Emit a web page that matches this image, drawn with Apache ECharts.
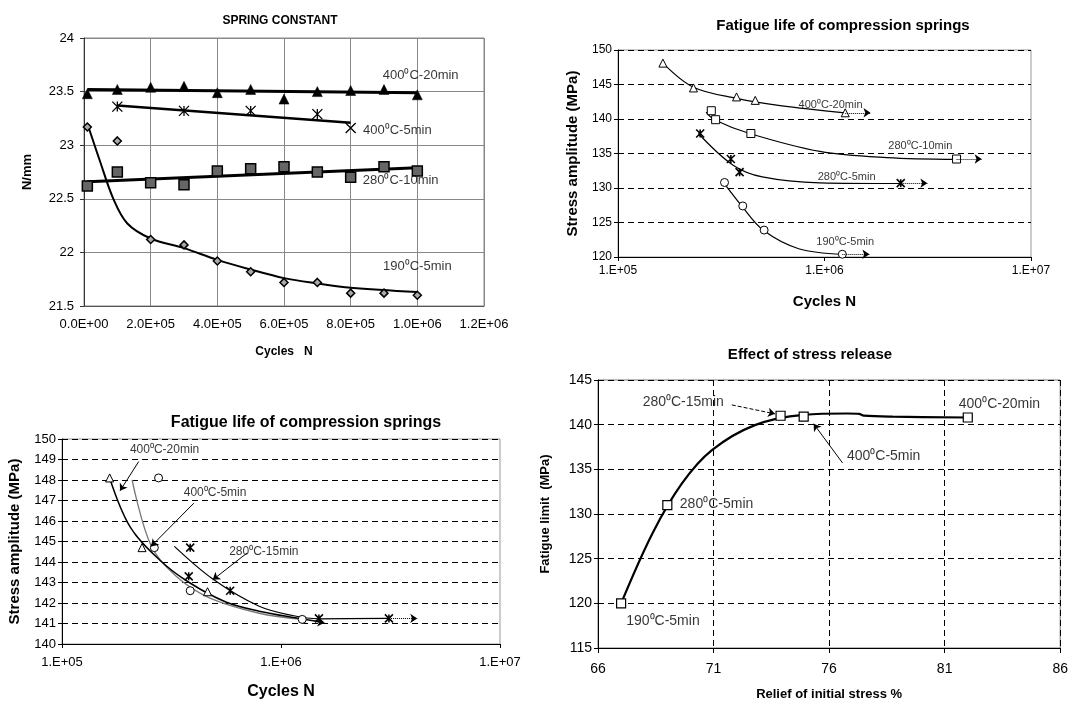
<!DOCTYPE html>
<html>
<head>
<meta charset="utf-8">
<title>Spring tests</title>
<script src="https://cdn.jsdelivr.net/npm/echarts@6/dist/echarts.min.js"></script>
<style>
html, body { margin: 0; padding: 0; background: #fff; }
#main { width: 1071px; height: 708px; }
</style>
</head>
<body>
<div id="main"></div>
<script>
// ---------- chart 1 : spring constant ----------
var cycles1 = [1e4, 1e5, 2e5, 3e5, 4e5, 5e5, 6e5, 7e5, 8e5, 9e5, 1e6];
var k400_20 = [23.48, 23.52, 23.54, 23.55, 23.49, 23.52, 23.43, 23.50, 23.51, 23.52, 23.47];
var k280_10 = [22.62, 22.75, 22.65, 22.63, 22.76, 22.78, 22.80, 22.75, 22.70, 22.80, 22.76];
var k190_5 = [23.17, 23.04, 22.12, 22.07, 21.92, 21.82, 21.72, 21.72, 21.62, 21.62, 21.60];
var cycles400_5 = [1e5, 3e5, 5e5, 7e5, 8e5];
var k400_5 = [23.36, 23.32, 23.32, 23.29, 23.16];
// trend lines
var fit400_20 = [[1e4, 23.52], [1e6, 23.49]];
var fit400_5 = [[1e5, 23.37], [8e5, 23.21]];
var fit280_10 = [[1e4, 22.66], [1e6, 22.79]];
var fit190_5 = [[1.35e4, 23.17], [4.7e4, 22.86], [8.8e4, 22.50], [1.3e5, 22.27], [2e5, 22.13], [3e5, 22.04],
  [4e5, 21.93], [5e5, 21.84], [6e5, 21.76], [7e5, 21.71], [8e5, 21.67], [1e6, 21.63]];
var notes1 = [[1.01e6, 23.65, '400⁰C-20min'], [0.94e6, 23.14, '400⁰C-5min'],
  [0.95e6, 22.67, '280⁰C-10min'], [1.0e6, 21.87, '190⁰C-5min']];

// ---------- chart 2 : fatigue life (top right) ----------
var t2_400_20 = [[1.65e5, 148.1], [2.32e5, 144.5], [3.75e5, 143.2], [4.62e5, 142.7], [1.26e6, 140.9]];
var t2_280_10 = [[2.83e5, 141.2], [2.97e5, 139.9], [4.4e5, 137.9], [4.36e6, 134.2]];
var t2_280_5 = [[2.5e5, 137.9], [3.52e5, 134.2], [3.88e5, 132.3], [2.34e6, 130.7]];
var t2_190_5 = [[3.28e5, 130.8], [4.02e5, 127.4], [5.1e5, 123.9], [1.22e6, 120.4]];
var c2_400_20 = [[1.65e5, 148.1], [2.32e5, 144.6], [3.75e5, 143.0], [6.1e5, 141.95], [1.26e6, 140.9]];
var c2_280_10 = [[2.67e5, 141.0], [2.93e5, 139.9], [4.34e5, 137.9], [9.5e5, 135.3], [2.0e6, 134.4], [4.36e6, 134.15]];
var c2_280_5 = [[2.45e5, 137.9], [3.61e5, 133.3], [5e5, 131.6], [9.5e5, 130.75], [2.34e6, 130.65]];
var c2_190_5 = [[3.24e5, 130.8], [3.97e5, 127.4], [5.04e5, 123.9], [7.5e5, 121.2], [1.22e6, 120.4]];
var arrows2 = [[[1.26e6, 140.9], [1.67e6, 140.9]], [[4.36e6, 134.2], [5.77e6, 134.2]],
  [[2.34e6, 130.7], [3.15e6, 130.7]], [[1.22e6, 120.4], [1.65e6, 120.4]]];
var notes2 = [[1.07e6, 142.05, '400⁰C-20min'], [2.91e6, 136.1, '280⁰C-10min'],
  [1.28e6, 131.6, '280⁰C-5min'], [1.26e6, 122.25, '190⁰C-5min']];

// ---------- chart 3 : fatigue life (bottom left) ----------
var t3_400_20 = [[1.65e5, 148.1], [2.32e5, 144.7], [4.62e5, 142.55]];
var t3_400_5 = [[2.76e5, 148.1], [2.64e5, 144.7], [3.85e5, 142.6], [1.25e6, 141.2]];
var t3_280_15 = [[3.85e5, 144.7], [3.79e5, 143.3], [5.86e5, 142.6], [1.49e6, 141.25], [3.11e6, 141.25]];
var c3_400_20 = [[1.65e5, 148.1], [2.05e5, 145.7], [2.79e5, 144.1], [3.81e5, 143.0], [5.6e5, 142.05],
  [7.95e5, 141.6], [1.21e6, 141.25], [1.5e6, 141.08]];
var c3_400_5 = [[2.09e5, 148.0], [2.55e5, 144.8], [3.32e5, 143.3], [4.71e5, 142.25], [7.95e5, 141.5], [1.25e6, 141.2]];
var c3_280_15 = [[3.26e5, 144.76], [4.88e5, 143.17], [7.95e5, 141.84], [1.13e6, 141.39], [1.49e6, 141.23],
  [3.11e6, 141.25]];
var pointers3 = [[[2.24e5, 148.9], [1.84e5, 147.47]], [[4.0e5, 146.87], [2.55e5, 144.76]],
  [[7.0e5, 144.44], [4.88e5, 143.13]]];
var ends3 = [[[1.45e6, 141.08], [1.58e6, 141.04]], [[3.11e6, 141.25], [4.19e6, 141.25]]];
var notes3 = [[2.94e5, 149.46, '400⁰C-20min'], [5.0e5, 147.39, '400⁰C-5min'], [8.35e5, 144.52, '280⁰C-15min']];

// ---------- chart 4 : effect of stress release ----------
var relief = [67.0, 69.0, 73.9, 74.9, 82.0];
var fatigueLimit = [120.0, 131.0, 141.0, 140.9, 140.8];
var c4_curve = [[67.0, 120.0], [68.36, 127.85], [69.64, 133.45], [70.93, 137.15], [72.79, 139.95],
  [74.9, 141.1], [76.8, 141.25], [77.3, 141.2], [77.5, 141.02], [78.75, 140.9], [82.0, 140.8]];
var dashedPointer4 = [[[71.79, 142.21], [73.66, 141.21]]];
var pointer4 = [[[76.58, 135.72], [75.33, 140.1]]];
var notes4 = [[69.69, 142.47, '280⁰C-15min'], [83.37, 142.33, '400⁰C-20min'], [78.36, 136.46, '400⁰C-5min'],
  [71.13, 131.07, '280⁰C-5min'], [68.81, 118.04, '190⁰C-5min']];

var FONT = 'Liberation Sans, Arial, sans-serif';
var ASTER = 'path://M0,0L10,10M0,10L10,0M5,0L5,10';
var CROSS = 'path://M0,0L10,10M0,10L10,0';

function zip(xs, ys) {
  return xs.map(function (x, i) { return [x, ys[i]]; });
}
function sci(v) {
  if (v === 0) return '0.0E+00';
  var e = Math.floor(Math.log10(v) + 1e-9);
  var m = v / Math.pow(10, e);
  return m.toFixed(1) + 'E+' + (e < 10 ? '0' + e : e);
}
function logLab(v) {
  var e = Math.round(Math.log10(v));
  return '1.E+' + (e < 10 ? '0' + e : e);
}
function curve(g, data, width, color) {
  return {
    type: 'line', xAxisIndex: g, yAxisIndex: g, data: data, showSymbol: false, symbol: 'none',
    smooth: 0.35, silent: true, z: 2,
    lineStyle: { color: color || '#000', width: width }
  };
}
function straight(g, data, width) {
  return {
    type: 'line', xAxisIndex: g, yAxisIndex: g, data: data, showSymbol: false, symbol: 'none',
    silent: true, z: 2, lineStyle: { color: '#000', width: width }
  };
}
function marks(g, data, symbol, size, fill, bw) {
  return {
    type: 'scatter', xAxisIndex: g, yAxisIndex: g, data: data, symbol: symbol, symbolSize: size,
    silent: true, z: 4,
    itemStyle: { color: fill, borderColor: '#000', borderWidth: bw, opacity: 1 }
  };
}
function notes(g, data, fs, arrows, lineType) {
  return {
    type: 'scatter', xAxisIndex: g, yAxisIndex: g, data: data, symbolSize: 1, silent: true, z: 6,
    itemStyle: { color: 'rgba(0,0,0,0)' },
    label: {
      show: true, position: 'inside', color: '#000', fontFamily: FONT, fontSize: fs,
      formatter: function (p) { return p.data[2]; }
    },
    markLine: {
      silent: true, symbol: ['none', 'arrow'], symbolSize: 7, animation: false,
      label: { show: false },
      lineStyle: { color: '#000', width: 1, type: lineType || 'solid' },
      data: (arrows || []).map(function (a) { return [{ coord: a[0] }, { coord: a[1] }]; })
    }
  };
}

var tickFont = { fontFamily: FONT, color: '#000' };
var dashed = { show: true, lineStyle: { color: '#000', type: [6, 4], width: 1 } };

var option = {
  backgroundColor: '#fff',
  animation: false,
  title: [
    { text: 'SPRING CONSTANT', left: 275, top: 10, textAlign: 'center',
      textStyle: { fontFamily: FONT, fontSize: 12, fontWeight: 'bold', color: '#000' } },
    { text: 'Fatigue life of compression springs', left: 838, top: 13, textAlign: 'center',
      textStyle: { fontFamily: FONT, fontSize: 15, fontWeight: 'bold', color: '#000' } },
    { text: 'Fatigue life of compression springs', left: 301, top: 410, textAlign: 'center',
      textStyle: { fontFamily: FONT, fontSize: 16, fontWeight: 'bold', color: '#000' } },
    { text: 'Effect of stress release', left: 805, top: 342, textAlign: 'center',
      textStyle: { fontFamily: FONT, fontSize: 15, fontWeight: 'bold', color: '#000' } }
  ],
  grid: [
    { left: 84, top: 38, width: 400, height: 268, show: true, borderColor: '#888', borderWidth: 1 },
    { left: 618, top: 50, width: 413, height: 207, show: true, borderColor: '#999', borderWidth: 1 },
    { left: 62, top: 439, width: 438, height: 205, show: true, borderColor: '#999', borderWidth: 1 },
    { left: 598, top: 380, width: 466, height: 268, show: true, borderColor: '#777', borderWidth: 1 }
  ],
  xAxis: [
    { gridIndex: 0, type: 'value', min: 0, max: 1.2e6, interval: 2e5,
      name: 'Cycles   N', nameLocation: 'middle', nameGap: 40,
      nameTextStyle: { fontFamily: FONT, fontSize: 12, fontWeight: 'bold', color: '#000' },
      axisLine: { lineStyle: { color: '#555' } }, axisTick: { show: false },
      axisLabel: Object.assign({ fontSize: 13, margin: 12, formatter: sci }, tickFont),
      splitLine: { show: true, lineStyle: { color: '#888', width: 1 } } },
    { gridIndex: 1, type: 'log', logBase: 10, min: 1e5, max: 1e7,
      name: 'Cycles N', nameLocation: 'middle', nameGap: 37,
      nameTextStyle: { fontFamily: FONT, fontSize: 15, fontWeight: 'bold', color: '#000' },
      axisLine: { lineStyle: { color: '#000' } }, axisTick: { length: 4, lineStyle: { color: '#000' } },
      minorTick: { show: false },
      axisLabel: Object.assign({ fontSize: 12, margin: 8, formatter: logLab }, tickFont),
      splitLine: { show: false } },
    { gridIndex: 2, type: 'log', logBase: 10, min: 1e5, max: 1e7,
      name: 'Cycles N', nameLocation: 'middle', nameGap: 40,
      nameTextStyle: { fontFamily: FONT, fontSize: 16, fontWeight: 'bold', color: '#000' },
      axisLine: { lineStyle: { color: '#000' } }, axisTick: { length: 4, lineStyle: { color: '#000' } },
      minorTick: { show: false },
      axisLabel: Object.assign({ fontSize: 13, margin: 12, formatter: logLab }, tickFont),
      splitLine: { show: false } },
    { gridIndex: 3, type: 'value', min: 66, max: 86, interval: 5,
      name: 'Relief of initial stress %', nameLocation: 'middle', nameGap: 40,
      nameTextStyle: { fontFamily: FONT, fontSize: 13, fontWeight: 'bold', color: '#000' },
      axisLine: { lineStyle: { color: '#000' } }, axisTick: { length: 5, lineStyle: { color: '#000' } },
      axisLabel: Object.assign({ fontSize: 14, margin: 14 }, tickFont),
      splitLine: dashed }
  ],
  yAxis: [
    { gridIndex: 0, type: 'value', min: 21.5, max: 24, interval: 0.5,
      name: 'N/mm', nameLocation: 'middle', nameGap: 50, nameRotate: 90,
      nameTextStyle: { fontFamily: FONT, fontSize: 13, fontWeight: 'bold', color: '#000' },
      axisLine: { show: true, lineStyle: { color: '#333' } }, axisTick: { show: true, length: 4, lineStyle: { color: '#333' } },
      axisLabel: Object.assign({ fontSize: 13, margin: 10 }, tickFont),
      splitLine: { show: true, lineStyle: { color: '#888', width: 1 } } },
    { gridIndex: 1, type: 'value', min: 120, max: 150, interval: 5,
      name: 'Stress amplitude (MPa)', nameLocation: 'middle', nameGap: 38, nameRotate: 90,
      nameTextStyle: { fontFamily: FONT, fontSize: 15, fontWeight: 'bold', color: '#000' },
      axisLine: { show: true, lineStyle: { color: '#000' } }, axisTick: { show: true, length: 4, lineStyle: { color: '#000' } },
      axisLabel: Object.assign({ fontSize: 12, margin: 6 }, tickFont),
      splitLine: dashed },
    { gridIndex: 2, type: 'value', min: 140, max: 150, interval: 1,
      name: 'Stress amplitude (MPa)', nameLocation: 'middle', nameGap: 40, nameRotate: 90,
      nameTextStyle: { fontFamily: FONT, fontSize: 15, fontWeight: 'bold', color: '#000' },
      axisLine: { show: true, lineStyle: { color: '#000' } }, axisTick: { show: true, length: 4, lineStyle: { color: '#000' } },
      axisLabel: Object.assign({ fontSize: 13, margin: 6 }, tickFont),
      splitLine: dashed },
    { gridIndex: 3, type: 'value', min: 115, max: 145, interval: 5,
      name: 'Fatigue limit  (MPa)', nameLocation: 'middle', nameGap: 46, nameRotate: 90,
      nameTextStyle: { fontFamily: FONT, fontSize: 13, fontWeight: 'bold', color: '#000' },
      axisLine: { show: true, lineStyle: { color: '#000' } }, axisTick: { show: true, length: 4, lineStyle: { color: '#000' } },
      axisLabel: Object.assign({ fontSize: 14, margin: 6 }, tickFont),
      splitLine: dashed }
  ],
  series: []
};

var s = option.series;
// chart 1
s.push(straight(0, fit400_20, 3));
s.push(straight(0, fit400_5, 2.5));
s.push(straight(0, fit280_10, 3));
s.push(curve(0, fit190_5, 2));
s.push(marks(0, zip(cycles1, k400_20), 'triangle', 10, '#000', 0.5));
s.push(marks(0, zip(cycles1, k280_10), 'rect', 10, '#666', 1.5));
s.push(marks(0, zip(cycles1, k190_5), 'diamond', 8, '#aaa', 1.5));
var pts400_5 = zip(cycles400_5, k400_5);
s.push(marks(0, pts400_5.slice(0, -1), ASTER, 10, '#000', 1.3));
s.push(marks(0, pts400_5.slice(-1), CROSS, 10, '#000', 1.3));
s.push(notes(0, notes1, 13));
// chart 2
s.push(curve(1, c2_400_20, 1.2));
s.push(curve(1, c2_280_10, 1.2));
s.push(curve(1, c2_280_5, 1.2));
s.push(curve(1, c2_190_5, 1.2));
s.push(marks(1, t2_400_20, 'triangle', 8, '#fff', 1));
s.push(marks(1, t2_280_10, 'rect', 8, '#fff', 1));
s.push(marks(1, t2_280_5, ASTER, 8, '#000', 1.6));
s.push(marks(1, t2_190_5, 'circle', 8, '#fff', 1));
s.push(notes(1, notes2, 11, arrows2, 'dotted'));
// chart 3
s.push(curve(2, c3_400_5, 1.3, '#777'));
s.push(curve(2, c3_400_20, 1.5));
s.push(curve(2, c3_280_15, 1.2));
s.push(marks(2, t3_400_20, 'triangle', 8, '#fff', 1));
s.push(marks(2, t3_400_5, 'circle', 8, '#fff', 1));
s.push(marks(2, t3_280_15, ASTER, 8, '#000', 1.5));
s.push(notes(2, notes3, 12, pointers3, 'solid'));
s.push(notes(2, [], 12, ends3, 'dotted'));
// chart 4
s.push(curve(3, c4_curve, 2.2));
s.push(marks(3, zip(relief, fatigueLimit), 'rect', 9, '#fff', 1.2));
s.push(notes(3, notes4, 14, pointer4, 'solid'));
s.push(notes(3, [], 14, dashedPointer4, 'dashed'));

var myChart = echarts.init(document.getElementById('main'));
myChart.setOption(option);
</script>
</body>
</html>
